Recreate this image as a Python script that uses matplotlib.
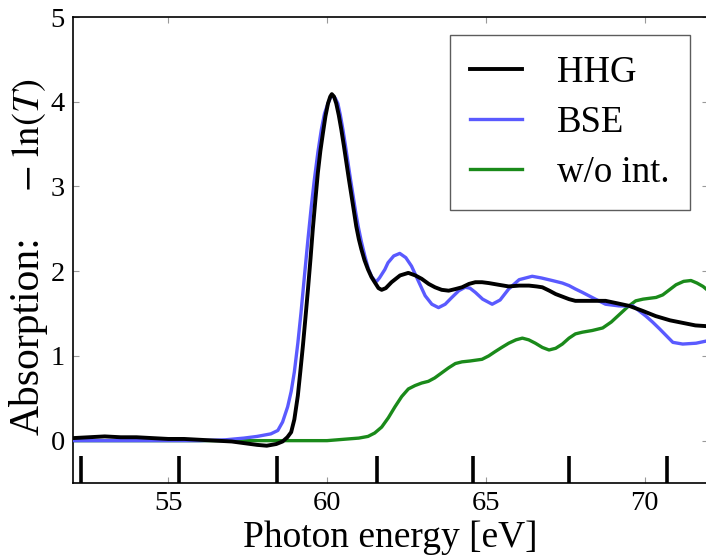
import matplotlib
matplotlib.use("Agg")
import matplotlib.pyplot as plt

# ---------------- data ----------------
hhg_x = [52.0, 52.5, 53.0, 53.5, 54.0, 54.5, 55.0, 55.5, 56.0, 56.5, 57.0, 57.4, 57.8, 58.1,
         58.4, 58.6, 58.75, 58.87, 58.97, 59.08, 59.16, 59.24, 59.32, 59.40, 59.48, 59.55,
         59.63, 59.71, 59.79, 59.87, 59.95, 60.03, 60.10, 60.15, 60.22, 60.29, 60.37, 60.45,
         60.53, 60.61, 60.69, 60.77, 60.85, 60.92, 61.00, 61.08, 61.18, 61.29, 61.40, 61.50,
         61.62, 61.72, 61.85, 62.03, 62.30, 62.56, 62.78, 62.98, 63.20, 63.40, 63.61, 63.83,
         64.05, 64.25, 64.47, 64.67, 64.88, 65.09, 65.40, 65.72, 66.05, 66.36, 66.60, 66.78,
         67.00, 67.20, 67.41, 67.62, 67.82, 68.04, 68.40, 68.77, 69.15, 69.52, 69.95, 70.35,
         70.80, 71.20, 71.60, 72.00]
hhg_y = [0.03, 0.04, 0.05, 0.04, 0.04, 0.03, 0.02, 0.02, 0.01, 0.00, -0.01, -0.03, -0.05, -0.06,
         -0.04, -0.01, 0.04, 0.10, 0.25, 0.53, 0.82, 1.12, 1.45, 1.79, 2.15, 2.49,
         2.83, 3.16, 3.42, 3.63, 3.83, 3.98, 4.06, 4.09, 4.06, 3.98, 3.84, 3.67,
         3.48, 3.28, 3.08, 2.89, 2.70, 2.53, 2.38, 2.26, 2.13, 2.02, 1.93, 1.87,
         1.80, 1.78, 1.80, 1.87, 1.95, 1.98, 1.95, 1.91, 1.85, 1.81, 1.78, 1.77,
         1.79, 1.81, 1.85, 1.87, 1.87, 1.86, 1.84, 1.82, 1.83, 1.83, 1.82, 1.81,
         1.77, 1.73, 1.70, 1.67, 1.65, 1.65, 1.65, 1.65, 1.62, 1.59, 1.53, 1.47,
         1.42, 1.39, 1.36, 1.35]

bse_x = [52.0, 53.0, 54.0, 55.0, 56.0, 56.8, 57.38, 57.8, 58.23, 58.45, 58.6, 58.76, 58.87,
         58.97, 59.08, 59.18, 59.29, 59.40, 59.50, 59.60, 59.71, 59.82, 59.92, 60.03, 60.11,
         60.19, 60.26, 60.34, 60.42, 60.50, 60.58, 60.66, 60.74, 60.82, 60.90, 60.98, 61.08,
         61.19, 61.30, 61.40, 61.50, 61.56, 61.65, 61.82, 61.92, 62.10, 62.29, 62.48, 62.66,
         62.88, 63.09, 63.30, 63.51, 63.72, 63.93, 64.15, 64.35, 64.50, 64.67, 64.90, 65.20,
         65.45, 65.72, 66.05, 66.46, 66.75, 67.09, 67.41, 67.62, 67.82, 68.04, 68.40, 68.77,
         69.20, 69.63, 70.04, 70.25, 70.47, 70.68, 70.89, 71.20, 71.62, 72.00]
bse_y = [0.0, 0.0, 0.0, 0.0, 0.0, 0.01, 0.03, 0.05, 0.08, 0.12, 0.22, 0.40, 0.58,
         0.81, 1.15, 1.51, 1.95, 2.38, 2.75, 3.08, 3.40, 3.67, 3.86, 3.98, 4.05,
         4.07, 4.04, 3.98, 3.84, 3.67, 3.48, 3.28, 3.08, 2.89, 2.70, 2.53, 2.35,
         2.18, 2.03, 1.94, 1.89, 1.88, 1.92, 2.02, 2.10, 2.18, 2.21, 2.16, 2.06,
         1.88, 1.71, 1.61, 1.57, 1.61, 1.69, 1.77, 1.81, 1.80, 1.75, 1.67, 1.61,
         1.66, 1.79, 1.90, 1.94, 1.92, 1.89, 1.86, 1.83, 1.79, 1.75, 1.68, 1.61,
         1.59, 1.59, 1.47, 1.40, 1.32, 1.24, 1.16, 1.14, 1.15, 1.18]

noint_x = [52.0, 54.0, 56.0, 58.0, 60.0, 60.66, 61.0, 61.29, 61.5, 61.72, 61.93, 62.14, 62.35,
           62.56, 62.77, 62.98, 63.19, 63.39, 63.61, 63.83, 64.04, 64.25, 64.5, 64.88, 65.09,
           65.29, 65.5, 65.72, 65.95, 66.15, 66.35, 66.56, 66.78, 66.99, 67.2, 67.41, 67.62,
           67.82, 68.04, 68.35, 68.68, 68.95, 69.21, 69.47, 69.72, 69.95, 70.15, 70.36, 70.57,
           70.78, 70.99, 71.23, 71.46, 71.65, 71.84, 72.0]
noint_y = [0.0, 0.0, 0.0, 0.0, 0.0, 0.02, 0.03, 0.05, 0.09, 0.16, 0.27, 0.40, 0.52,
           0.61, 0.65, 0.68, 0.70, 0.74, 0.80, 0.86, 0.91, 0.93, 0.94, 0.96, 1.00,
           1.05, 1.10, 1.15, 1.19, 1.21, 1.19, 1.15, 1.10, 1.07, 1.09, 1.14, 1.21,
           1.26, 1.28, 1.30, 1.33, 1.40, 1.49, 1.58, 1.65, 1.67, 1.68, 1.69, 1.72,
           1.78, 1.84, 1.88, 1.89, 1.86, 1.82, 1.77]

harmonics = [52.24, 55.35, 58.42, 61.56, 64.59, 67.63, 70.70]

x_ticks = [55, 60, 65, 70]
y_ticks = [0, 1, 2, 3, 4, 5]

# ---------------- plot ----------------
plt.rcParams['font.family'] = ['Liberation Serif', 'DejaVu Serif']
plt.rcParams['mathtext.fontset'] = 'stix'

fig = plt.figure(figsize=(7.06, 5.58), dpi=100)
ax = fig.add_axes([0.1034, 0.1344, 0.8996, 0.8351])

ax.plot(hhg_x, hhg_y, color='black', lw=2.8, label='HHG', zorder=4)
ax.plot(bse_x, bse_y, color='#5a5aff', lw=2.4, label='BSE', zorder=3)
ax.plot(noint_x, noint_y, color='#1a8a1a', lw=2.4, label='w/o int.', zorder=2)
ax.vlines(harmonics, -0.5, -0.18, color='black', lw=2.6)

ax.set_xlim(52, 72)
ax.set_ylim(-0.5, 5)
ax.set_xticks(x_ticks)
ax.set_yticks(y_ticks)
ax.tick_params(direction='in', length=4, width=0.8, color='#999999',
               top=True, right=True, labelsize=20.5, pad=6)
for s in ax.spines.values():
    s.set_linewidth(1.2)

ax.set_xlabel('Photon energy [eV]', fontsize=27, labelpad=3)
fig.text(0.040, 0.398, 'Absorption:', rotation=90, fontsize=30,
         ha='center', va='center')
fig.text(0.041, 0.758, r'$-\ \mathrm{ln}(T)$', rotation=90, fontsize=28,
         ha='center', va='center')

leg = ax.legend(loc='upper right', fontsize=26.5, frameon=True, fancybox=False,
                edgecolor='#333333', handlelength=1.4, handletextpad=0.95,
                labelspacing=0.42, borderpad=0.55, borderaxespad=0.5)
leg.get_frame().set_linewidth(1.0)

fig.savefig('out.png', dpi=100)
